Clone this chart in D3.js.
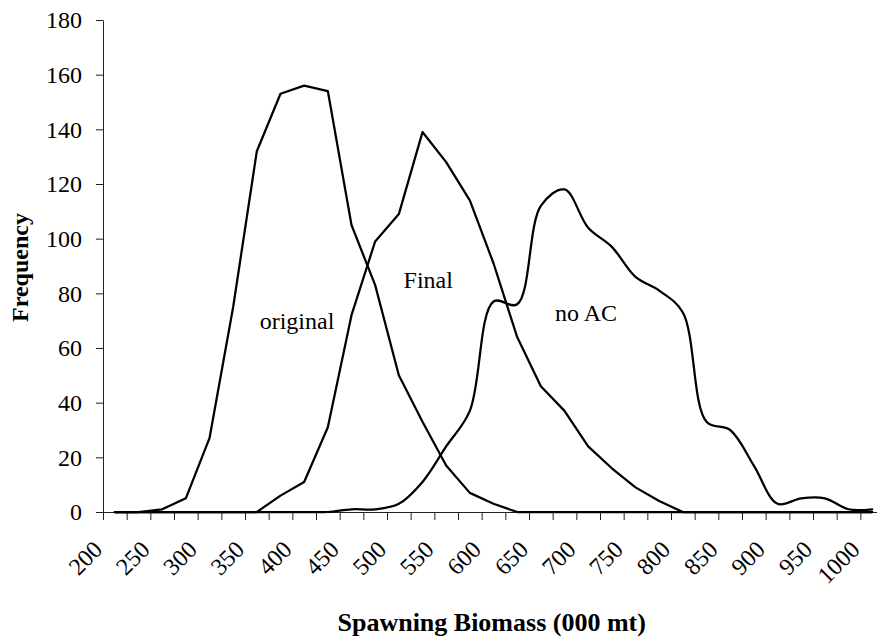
<!DOCTYPE html>
<html><head><meta charset="utf-8">
<script src="https://cdn.jsdelivr.net/npm/d3@7"></script>
<style>
body{margin:0;background:#fff}
svg{display:block}
text{font-family:"Liberation Serif","Times New Roman",serif;fill:#000}
</style>
</head><body>
<svg id="c" width="877" height="640"></svg>
<script>
// ---- data ----
const categories = [200,225,250,275,300,325,350,375,400,425,450,475,500,525,550,575,600,625,650,675,700,725,750,775,800,825,850,875,900,925,950,975,1000];
const tickLabels = [200,250,300,350,400,450,500,550,600,650,700,750,800,850,900,950,1000];
const yTicks = [0,20,40,60,80,100,120,140,160,180];
const original = [0,0,1,5,27,75,132,153,156,154,105,83,50,33,17,7,3,0,0,0,0,0,0,0,0,0,0,0,0,0,0,0,0];
const finalSeries = [0,0,0,0,0,0,0,6,11,31,72,99,109,139,128,114,91,64,46,37,24,16,9,4,0,0,0,0,0,0,0,0,0];
const noAC = [0,0,0,0,0,0,0,0,0,0,1,1,3,11,24,37,77,76,112,118,104,97,86,81,73,33,30,17,3,5,5,1,1];
const labelNames = ["original","Final","no AC"];
const labelX = [353,505,665];
const labelY = [67,82,70];

// ---- chart ----
const svg = d3.select("#c");
const step = categories[1]-categories[0];
const x = d3.scaleLinear()
  .domain([categories[0]-step/2, categories[categories.length-1]+step/2])
  .range([103, 884]);
const y = d3.scaleLinear().domain([0,180]).range([512,20]);

// y axis
const gy = svg.append("g").attr("transform","translate(103,0)")
  .call(d3.axisLeft(y).tickValues(yTicks).tickSize(7).tickSizeOuter(0).tickPadding(14));
gy.selectAll("text").style("font-size","24px").style("font-family","'Liberation Serif',serif").attr("fill","#000");
gy.selectAll("line,path").attr("stroke","#222");

// x axis (tick marks between categories)
const bounds = categories.map(c=>c-step/2).concat([categories[categories.length-1]+step/2]);
const gx = svg.append("g").attr("transform","translate(0,512)")
  .call(d3.axisBottom(x).tickValues(bounds).tickSize(8).tickSizeOuter(0).tickFormat(""));
gx.selectAll("line,path").attr("stroke","#222");

// x tick labels rotated
svg.append("g").selectAll("text").data(tickLabels).join("text")
  .attr("transform",d=>`translate(${x(d)-11},551) rotate(-45)`)
  .attr("text-anchor","end")
  .style("font-size","24px")
  .text(d=>d);

// lines
const mk = (curve)=>d3.line().x((d,i)=>x(categories[i])).y(d=>y(d)).curve(curve);
const series = [
  {v:original, c:d3.curveLinear},
  {v:finalSeries, c:d3.curveLinear},
  {v:noAC, c:d3.curveCatmullRom.alpha(0.5)}
];
svg.append("g").selectAll("path").data(series).join("path")
  .attr("d",s=>mk(s.c)(s.v))
  .attr("fill","none").attr("stroke","#000").attr("stroke-width",2.25)
  .attr("stroke-linejoin","round").attr("stroke-linecap","round");

// annotations
svg.append("g").selectAll("text").data(labelNames).join("text")
  .attr("x",(d,i)=>x(labelX[i])).attr("y",(d,i)=>y(labelY[i]))
  .style("font-size","24px").text(d=>d);

// axis titles
svg.append("text").attr("transform","translate(27.5,267.5) rotate(-90)")
  .attr("text-anchor","middle").style("font-size","24px").style("font-weight","bold").text("Frequency");
svg.append("text").attr("x",491.7).attr("y",631)
  .attr("text-anchor","middle").style("font-size","26px").style("font-weight","bold").text("Spawning Biomass (000 mt)");
</script>
</body></html>
